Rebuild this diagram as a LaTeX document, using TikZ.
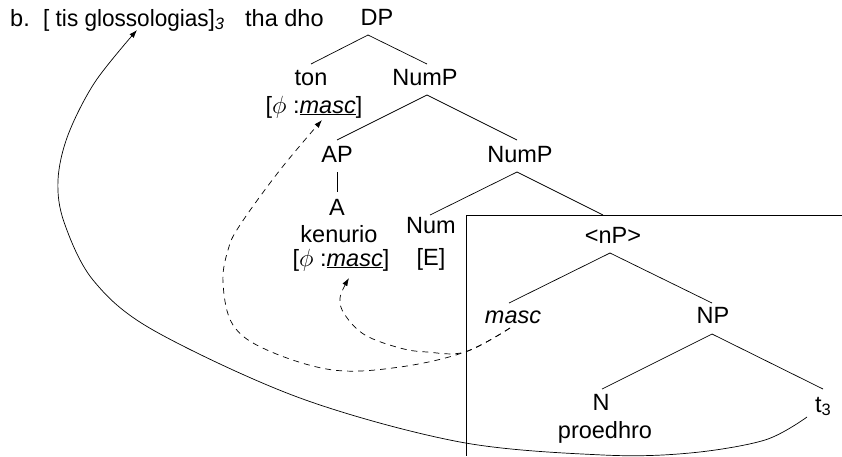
\documentclass[tikz,border=0pt]{standalone}
\usepackage{fontspec}
\setmainfont{Liberation Sans}
\usepackage{graphicx}
\usetikzlibrary{arrows.meta}
\begin{document}
\begin{tikzpicture}[x=1pt,y=-1pt,
  every node/.style={inner sep=0pt, anchor=base, font=\fontsize{23.5}{28}\selectfont},
  edge/.style={line width=0.7pt},
  tip/.style={-{Latex[length=8pt,width=5.5pt]}},
  dsh/.style={line width=0.7pt, dash pattern=on 6pt off 5pt}]
\useasboundingbox (0,0) rectangle (842,456);
% top line
\node[anchor=base west] (lbl) at (10,26) {b.};
\node[anchor=base west] (gl) at (43,26) {\scalebox{0.96}[1]{[ tis glossologias]}\textsubscript{\itshape 3}};
\node[anchor=base west] (tha) at (245,26) {tha dho};
% tree
\node (DP) at (377,25) {DP};
\node (ton) at (311,85) {ton};
\node (tonf) at (314,113) {[$\phi$ :\underline{\textit{masc}}]};
\node (NumP1) at (425,85) {NumP};
\node (AP) at (337,162) {AP};
\node (A) at (337,215) {A};
\node (ken) at (339,242) {kenurio};
\node (kenf) at (341,266) {[$\phi$ :\underline{\textit{masc}}]};
\node (NumP2) at (520,162) {NumP};
\node (Num) at (431,233) {Num};
\node (E) at (431,265) {[E]};
\node (nP) at (613,243) {<nP>};
\node (masc) at (513,323) {\textit{masc}};
\node (NP) at (713,323) {NP};
\node (N) at (601,410) {N};
\node (pro) at (605,438) {proedhro};
\node[anchor=base west] (t3) at (815,412) {t\textsubscript{3}};
% box
\coordinate (boxTR) at (842,215);
\coordinate (boxTL) at (466,215);
\coordinate (boxBL) at (466,456);
\draw[edge] (boxTR) -- (boxTL) -- (boxBL);
% branches
\draw[edge] ([shift={(-9,10)}]DP.base) -- ([shift={(0,-21)}]ton.base);
\draw[edge] ([shift={(-9,10)}]DP.base) -- ([shift={(2,-21)}]NumP1.base);
\draw[edge] ([shift={(2,10)}]NumP1.base) -- ([shift={(0,-22)}]AP.base);
\draw[edge] ([shift={(2,10)}]NumP1.base) -- ([shift={(-3,-22)}]NumP2.base);
\draw[edge] ([shift={(0,10)}]AP.base) -- ([shift={(0,-23)}]A.base);
\draw[edge] ([shift={(-3,10)}]NumP2.base) -- ([shift={(-1,-18)}]Num.base);
\draw[edge] ([shift={(-3,10)}]NumP2.base) -- ([shift={(-10,-28)}]nP.base);
\draw[edge] ([shift={(-3,10)}]nP.base) -- ([shift={(-4,-20)}]masc.base);
\draw[edge] ([shift={(-3,10)}]nP.base) -- ([shift={(-1,-20)}]NP.base);
\draw[edge] ([shift={(-1,11)}]NP.base) -- ([shift={(1,-21)}]N.base);
\draw[edge] ([shift={(-1,11)}]NP.base) -- ([shift={(8,-23)}]t3.base west);
% movement arrows
\draw[edge, tip] plot[smooth, tension=0.55] coordinates {([shift={(-8,5)}]t3.base west) (765,440) (690,453) (603,455) (460,442) (300,398) (153,330) (93,280) (64,222) (58,180) (68,135) (95,82) ([shift={(94,4)}]gl.base west)};
\draw[dsh, tip] plot[smooth, tension=0.6] coordinates {([shift={(-3,5)}]masc.base) (465,352) (400,367) (333,370) (267,350) (233,325) (223,283) (228,250) (240,225) (280,170) ([shift={(8,7)}]tonf.base)};
\draw[dsh, tip] plot[smooth, tension=0.6] coordinates {([shift={(-3,5)}]masc.base) (465,352) (427,352) (400,348) (365,335) (345,315) (340,298) ([shift={(8,12)}]kenf.base)};
\end{tikzpicture}
\end{document}
